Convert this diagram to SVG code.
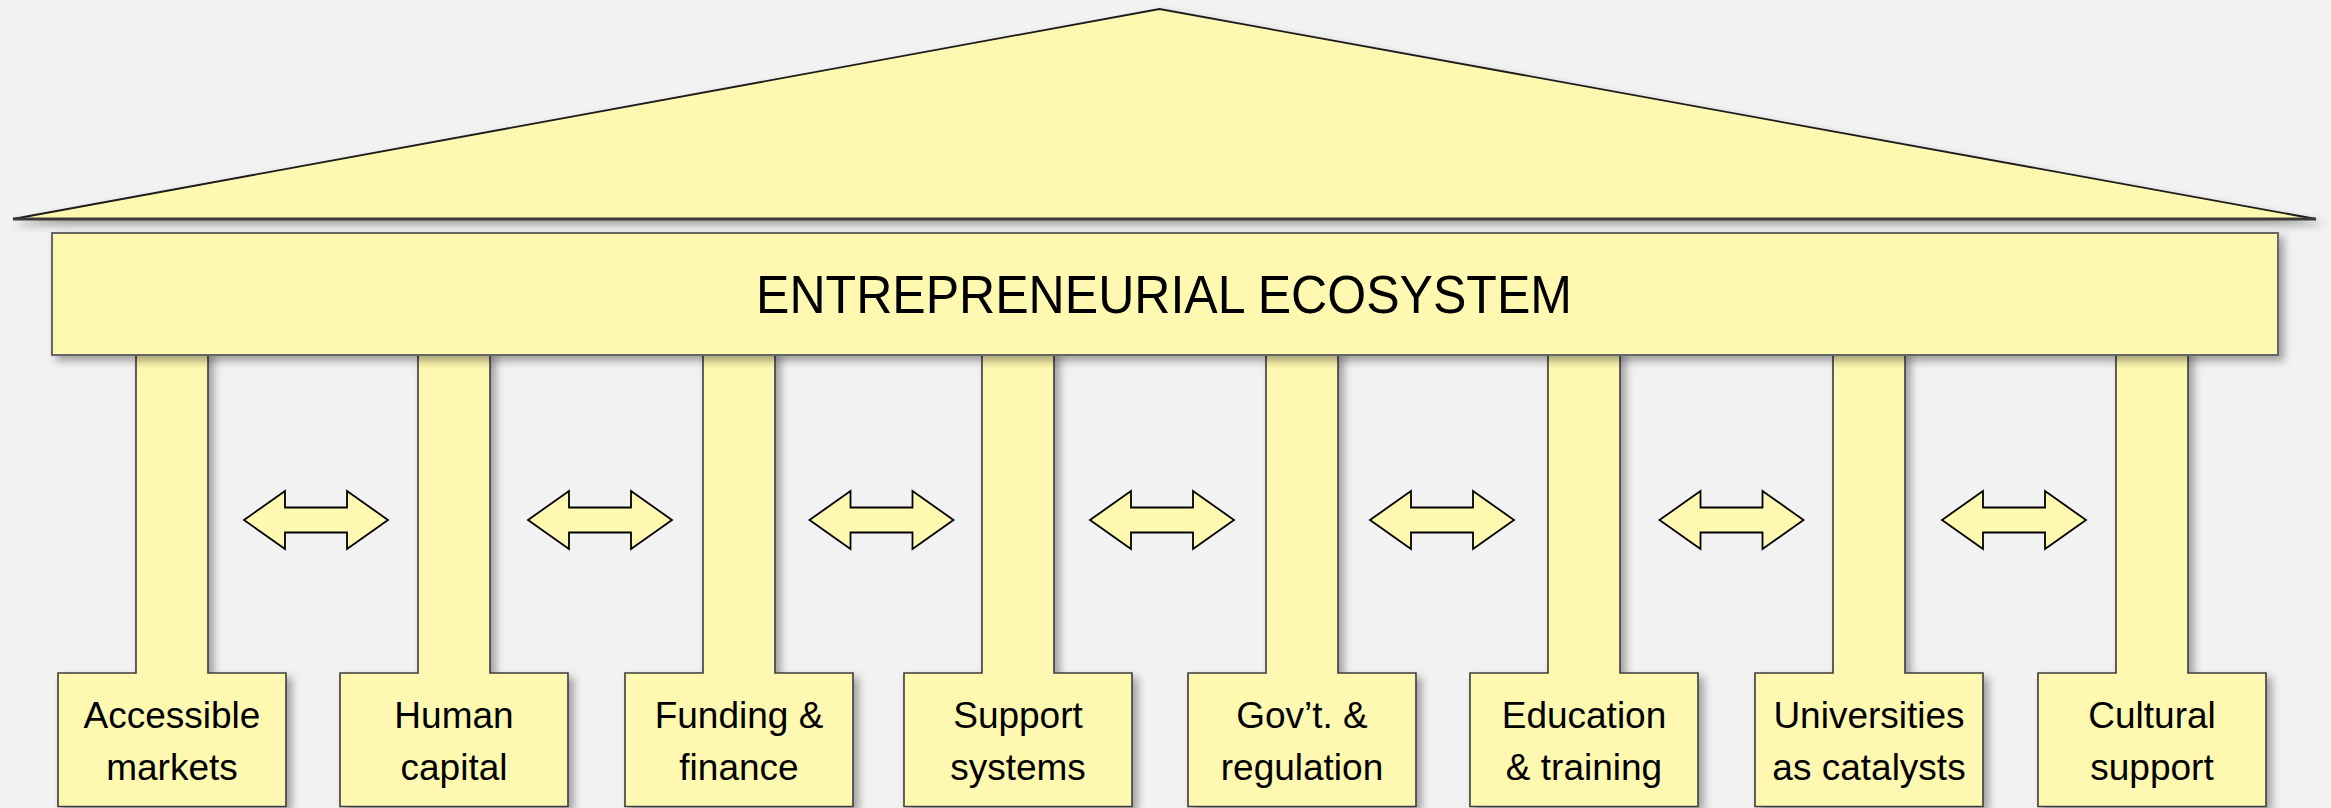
<svg xmlns="http://www.w3.org/2000/svg" xmlns:xlink="http://www.w3.org/1999/xlink" width="2331" height="808" viewBox="0 0 2331 808">
<defs>
<style>
.shape{fill:#fff8b0;stroke:#3c3c3c;stroke-width:1.6}
.lbl{font-family:"Liberation Sans",Arial,sans-serif;font-size:37px;fill:#000;text-anchor:middle}
.title{font-family:"Liberation Sans",Arial,sans-serif;font-size:54px;fill:#000;text-anchor:middle}
.arrow{fill:#fff8b0;stroke:#000;stroke-width:1.8;stroke-linejoin:miter}
</style>
<filter id="sh" x="-10%" y="-10%" width="130%" height="130%">
<feDropShadow dx="5" dy="5" stdDeviation="4" flood-color="#000" flood-opacity="0.35"/>
</filter>
<path id="dblarrow" d="M-72,0 L-31,-29 L-31,-12.5 L31,-12.5 L31,-29 L72,0 L31,29 L31,12.5 L-31,12.5 L-31,29 Z"/>
</defs>
<rect x="0" y="0" width="2331" height="808" fill="#f2f2f2"/>

<g id="roof">
<polygon points="13,219 1159.5,9 2316,219" fill="#fff8b0" stroke="#1a1a1a" stroke-width="1.8" filter="url(#sh)"/>
<line x1="13" y1="219" x2="2316" y2="219" stroke="#3a3a3a" stroke-width="3"/>
</g>

<g id="col1"><path class="shape" filter="url(#sh)" d="M136,350 V673 H58 V806.5 H286 V673 H208 V350"/><text class="lbl" x="172" y="728">Accessible</text><text class="lbl" x="172" y="780">markets</text></g>
<g id="col2"><path class="shape" filter="url(#sh)" d="M418,350 V673 H340 V806.5 H568 V673 H490 V350"/><text class="lbl" x="454" y="728">Human</text><text class="lbl" x="454" y="780">capital</text></g>
<g id="col3"><path class="shape" filter="url(#sh)" d="M703,350 V673 H625 V806.5 H853 V673 H775 V350"/><text class="lbl" x="739" y="728">Funding &amp;</text><text class="lbl" x="739" y="780">finance</text></g>
<g id="col4"><path class="shape" filter="url(#sh)" d="M982,350 V673 H904 V806.5 H1132 V673 H1054 V350"/><text class="lbl" x="1018" y="728">Support</text><text class="lbl" x="1018" y="780">systems</text></g>
<g id="col5"><path class="shape" filter="url(#sh)" d="M1266,350 V673 H1188 V806.5 H1416 V673 H1338 V350"/><text class="lbl" x="1302" y="728">Gov’t. &amp;</text><text class="lbl" x="1302" y="780">regulation</text></g>
<g id="col6"><path class="shape" filter="url(#sh)" d="M1548,350 V673 H1470 V806.5 H1698 V673 H1620 V350"/><text class="lbl" x="1584" y="728">Education</text><text class="lbl" x="1584" y="780">&amp; training</text></g>
<g id="col7"><path class="shape" filter="url(#sh)" d="M1833,350 V673 H1755 V806.5 H1983 V673 H1905 V350"/><text class="lbl" x="1869" y="728">Universities</text><text class="lbl" x="1869" y="780">as catalysts</text></g>
<g id="col8"><path class="shape" filter="url(#sh)" d="M2116,350 V673 H2038 V806.5 H2266 V673 H2188 V350"/><text class="lbl" x="2152" y="728">Cultural</text><text class="lbl" x="2152" y="780">support</text></g>

<g id="entablature">
<rect x="52" y="233" width="2226" height="122" fill="#fff8b0" stroke="#666" stroke-width="2" filter="url(#sh)"/>
<text class="title" x="1164" y="313" textLength="816" lengthAdjust="spacingAndGlyphs">ENTREPRENEURIAL ECOSYSTEM</text>
</g>

<g id="connectors">
<use xlink:href="#dblarrow" class="arrow" transform="translate(316,520)"/>
<use xlink:href="#dblarrow" class="arrow" transform="translate(600,520)"/>
<use xlink:href="#dblarrow" class="arrow" transform="translate(881.5,520)"/>
<use xlink:href="#dblarrow" class="arrow" transform="translate(1162,520)"/>
<use xlink:href="#dblarrow" class="arrow" transform="translate(1442,520)"/>
<use xlink:href="#dblarrow" class="arrow" transform="translate(1731.5,520)"/>
<use xlink:href="#dblarrow" class="arrow" transform="translate(2014,520)"/>
</g>
</svg>
